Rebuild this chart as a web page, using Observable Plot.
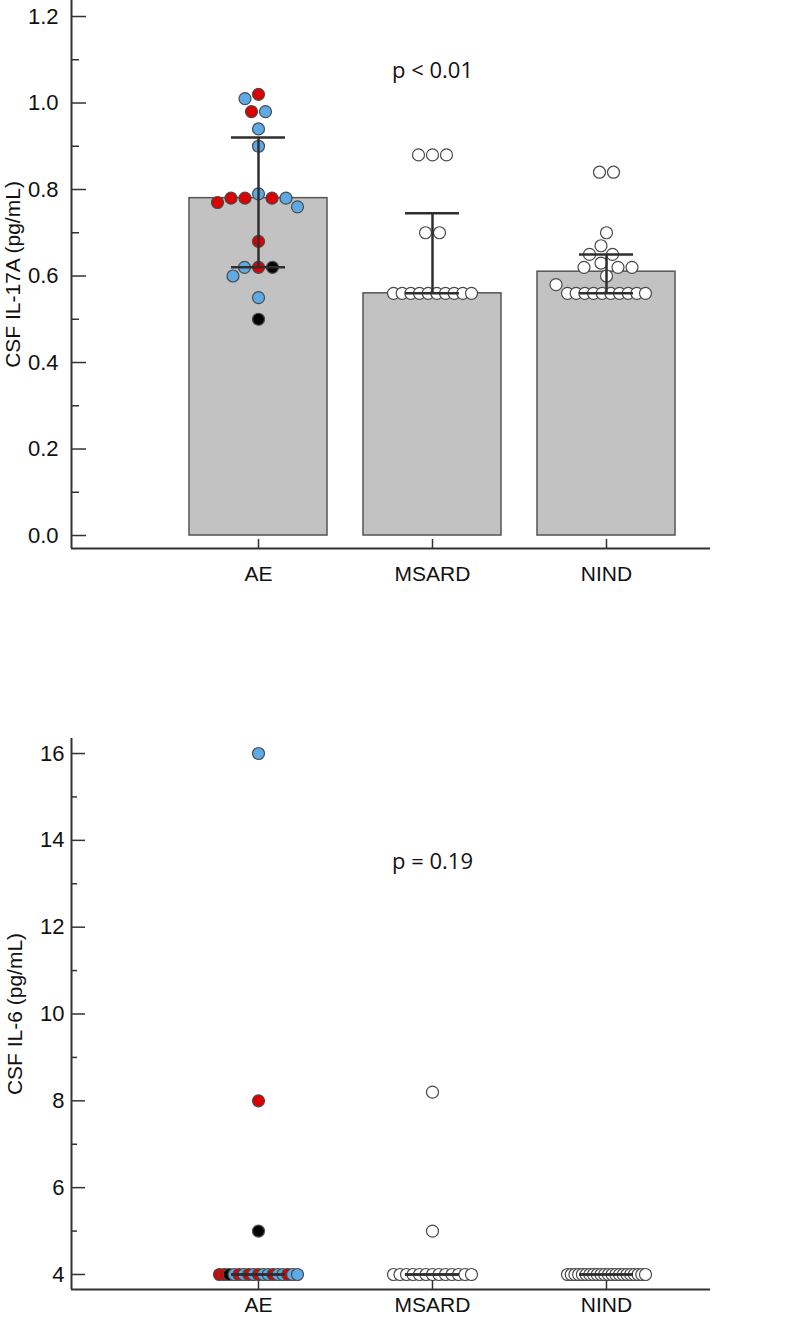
<!DOCTYPE html>
<html><head><meta charset="utf-8">
<script src="https://cdn.jsdelivr.net/npm/d3@7"></script>
<script src="https://cdn.jsdelivr.net/npm/@observablehq/plot@0.6"></script>
<style>
body{margin:0;background:#fff;}
#chart svg{display:block;}
</style>
</head><body><div id="chart"></div>
<script>
// ---------- data ----------
const groups = ["AE", "MSARD", "NIND"];

// Panel 1: CSF IL-17A
const il17Label = "CSF IL-17A (pg/mL)";
const il17Ticks = [0, 0.2, 0.4, 0.6, 0.8, 1.0, 1.2];
const il17Minor = [0.1, 0.3, 0.5, 0.7, 0.9, 1.1];
const il17Bars = [0.78, 0.56, 0.61];
const il17ErrLow = [0.62, 0.56, 0.56];
const il17ErrHigh = [0.92, 0.745, 0.65];
const il17AE = [1.02, 1.01, 0.98, 0.98, 0.94, 0.90, 0.79, 0.78, 0.78, 0.78, 0.78, 0.77, 0.76, 0.68, 0.62, 0.62, 0.62, 0.60, 0.55, 0.50];
const il17AEColors = ["red", "blue", "red", "blue", "blue", "blue", "blue", "red", "red", "red", "blue", "red", "blue", "red", "blue", "red", "black", "blue", "blue", "black"];
const il17MSARD = [0.88, 0.88, 0.88, 0.70, 0.70, 0.56, 0.56, 0.56, 0.56, 0.56, 0.56, 0.56, 0.56, 0.56, 0.56];
const il17NIND = [0.84, 0.84, 0.70, 0.67, 0.65, 0.65, 0.63, 0.62, 0.62, 0.62, 0.60, 0.58, 0.56, 0.56, 0.56, 0.56, 0.56, 0.56, 0.56, 0.56, 0.56, 0.56];
const il17P = "p < 0.01";
const il17PY = 1.075;

// Panel 2: CSF IL-6
const il6Label = "CSF IL-6 (pg/mL)";
const il6Ticks = [4, 6, 8, 10, 12, 14, 16];
const il6Minor = [5, 7, 9, 11, 13, 15];
const il6ErrLow = [4, 4, 4];
const il6ErrHigh = [4, 4, 4];
const il6AE = [16, 8, 5, 4, 4, 4, 4, 4, 4, 4, 4, 4, 4, 4, 4, 4, 4, 4, 4, 4];
const il6AEColors = ["blue", "red", "black", "red", "red", "black", "blue", "red", "blue", "red", "blue", "red", "blue", "blue", "red", "blue", "blue", "red", "blue", "blue"];
const il6MSARD = [8.2, 5.0, 4, 4, 4, 4, 4, 4, 4, 4, 4, 4, 4, 4, 4];
const il6NIND = [4, 4, 4, 4, 4, 4, 4, 4, 4, 4, 4, 4, 4, 4, 4, 4, 4, 4, 4, 4, 4, 4];
const il6P = "p = 0.19";
const il6PY = 13.5;

// ---------- styling / layout constants ----------
const W = 796;
const ML = 71, MR = 86;
const xDomain = [-1.0747, 2.5977];
const pxPerX = (W - ML - MR) / (xDomain[1] - xDomain[0]);
const colorHex = {red: "#dc0000", blue: "#5eaae6", black: "#000000", white: "#ffffff"};
const FONT = "'Liberation Sans', Arial, sans-serif";
const R = 6, COLL = 14, MAXROW = 78;

// beeswarm-like placement computed in pixel space
function layout(values, colors, pxPerY) {
  const pts = values.map((v, i) => ({v, c: colors ? colors[i] : "white", y: v * pxPerY, x: null}));
  const byVal = d3.group(pts, d => d.v);
  const placed = [];
  const collide = (x, y) => placed.some(p => {
    const dx = p.x - x, dy = p.y - y;
    return dx * dx + dy * dy < COLL * COLL - 1e-6;
  });
  for (const [, g] of byVal) {
    if (g.length >= 2 && (g.length - 1) * COLL > MAXROW) {
      const s = MAXROW / (g.length - 1);
      g.forEach((p, k) => { p.x = (k - (g.length - 1) / 2) * s; placed.push(p); });
    }
  }
  const vals = Array.from(byVal.keys()).sort((a, b) => b - a);
  for (const v of vals) {
    const g = byVal.get(v);
    if (g[0].x !== null) continue;
    const n = g.length;
    if (n >= 2) {
      const xs = g.map((p, k) => (k - (n - 1) / 2) * COLL);
      if (xs.every(x => !collide(x, g[0].y))) {
        g.forEach((p, k) => { p.x = xs[k]; placed.push(p); });
        continue;
      }
    }
    for (const p of g) {
      for (let o = 0; o < 400; o += 0.5) {
        if (!collide(-o, p.y)) { p.x = -o; break; }
        if (!collide(o, p.y)) { p.x = o; break; }
      }
      placed.push(p);
    }
  }
  return pts;
}

function makeDots(groupValues, groupColors, pxPerY) {
  const out = [];
  groupValues.forEach((vals, gi) => {
    for (const p of layout(vals, groupColors[gi], pxPerY)) {
      out.push({x: gi + p.x / pxPerX, y: p.v, fill: colorHex[p.c]});
    }
  });
  out.sort((a, b) => a.x - b.x);
  return out;
}

function panel({height, marginTop, marginBottom, yDomain, ticks, minor, tickFormat, label, labelOffset,
                bars, lo, hi, dots, pText, pY, majorLen, minorLen, xPad, yPad}) {
  const pxPerY = (height - marginTop - marginBottom) / (yDomain[1] - yDomain[0]);
  const idx = groups.map((g, i) => i);
  const halfBar = 69 / pxPerX, halfCap = 27 / pxPerX;
  const errs = idx.map(i => ({i, lo: lo[i], hi: hi[i]}));
  const caps = errs.flatMap(d => [{i: d.i, y: d.lo}, {i: d.i, y: d.hi}]);
  const marks = [];
  if (bars) {
    marks.push(Plot.rectY(idx.map(i => ({i, v: bars[i]})), {
      x1: d => d.i - halfBar, x2: d => d.i + halfBar, y1: 0, y2: "v",
      fill: "#c2c2c2", stroke: "#555", strokeWidth: 1.5
    }));
  }
  marks.push(
    Plot.dot(dots, {x: "x", y: "y", r: R, fill: "fill", stroke: "#4a4a4a", strokeWidth: 1.2}),
    Plot.ruleX(errs, {x: "i", y1: "lo", y2: "hi", stroke: "#2e2e2e", strokeWidth: 2.5}),
    Plot.ruleY(caps, {y: "y", x1: d => d.i - halfCap, x2: d => d.i + halfCap, stroke: "#2e2e2e", strokeWidth: 2.5}),
    // axis lines
    Plot.ruleX([xDomain[0]], {stroke: "#333", strokeWidth: 2}),
    Plot.ruleY([yDomain[0]], {stroke: "#333", strokeWidth: 2}),
    // inward ticks
    Plot.ruleY(ticks, {y: d => d, x1: xDomain[0], x2: xDomain[0] + majorLen / pxPerX, stroke: "#333", strokeWidth: 1.5}),
    Plot.ruleY(minor, {y: d => d, x1: xDomain[0], x2: xDomain[0] + minorLen / pxPerX, stroke: "#333", strokeWidth: 1.5}),
    Plot.ruleX(idx, {x: d => d, y1: yDomain[0], y2: yDomain[0] + 9 / pxPerY, stroke: "#333", strokeWidth: 1.5}),
    Plot.axisY({ticks, tickFormat, tickSize: 0, tickPadding: yPad, fontSize: 22}),
    Plot.axisY({ticks: [], label, labelAnchor: "center", labelOffset, labelArrow: "none", fontSize: 21}),
    Plot.axisX({ticks: idx, tickFormat: i => groups[i], tickSize: 0, tickPadding: xPad, label: null, fontSize: 21}),
    Plot.text([pText], {x: 1, y: pY, text: d => d, fontSize: 22, fontFamily: "'Open Sans', sans-serif", fill: "#111"})
  );
  return Plot.plot({
    width: W, height, marginLeft: ML, marginRight: MR, marginTop, marginBottom,
    style: {fontFamily: FONT, fontSize: "21px", color: "#111", background: "#fff", overflow: "visible"},
    x: {domain: xDomain, axis: null},
    y: {domain: yDomain, axis: null},
    marks
  });
}

// Panel 1
const h1 = 610, mt1 = 0, mb1 = 62, yd1 = [-0.03, 1.237];
const ppy1 = (h1 - mt1 - mb1) / (yd1[1] - yd1[0]);
const dots1 = makeDots([il17AE, il17MSARD, il17NIND], [il17AEColors, null, null], ppy1);
const p1 = panel({height: h1, marginTop: mt1, marginBottom: mb1, yDomain: yd1, ticks: il17Ticks, minor: il17Minor,
  tickFormat: d3.format(".1f"), label: il17Label, labelOffset: 66, bars: il17Bars, lo: il17ErrLow, hi: il17ErrHigh,
  dots: dots1, pText: il17P, pY: il17PY, majorLen: 15, minorLen: 8, xPad: 18, yPad: 13});

// Panel 2
const h2 = 709, mt2 = 128, mb2 = 30, yd2 = [3.654, 16.346];
const ppy2 = (h2 - mt2 - mb2) / (yd2[1] - yd2[0]);
const dots2 = makeDots([il6AE, il6MSARD, il6NIND], [il6AEColors, null, null], ppy2);
const p2 = panel({height: h2, marginTop: mt2, marginBottom: mb2, yDomain: yd2, ticks: il6Ticks, minor: il6Minor,
  tickFormat: d3.format("d"), label: il6Label, labelOffset: 64, bars: null, lo: il6ErrLow, hi: il6ErrHigh,
  dots: dots2, pText: il6P, pY: il6PY, majorLen: 14, minorLen: 6, xPad: 8, yPad: 7});

const chart = document.getElementById("chart");
chart.appendChild(p1);
chart.appendChild(p2);
</script>
</body></html>
